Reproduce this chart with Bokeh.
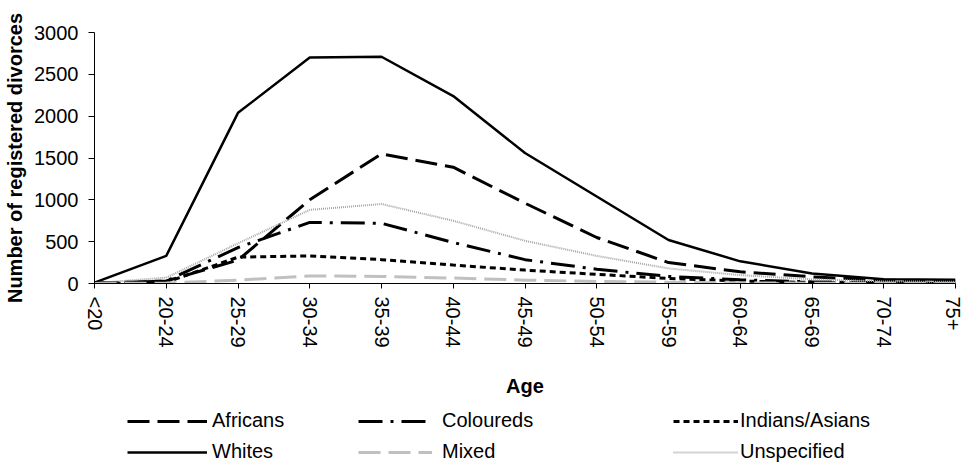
from bokeh.plotting import figure
from bokeh.layouts import column
from bokeh.models import Range1d, FixedTicker, Legend, LegendItem
from bokeh.embed import file_html
from bokeh.resources import INLINE

# ---- data ----
ages = ["<20", "20-24", "25-29", "30-34", "35-39", "40-44", "45-49",
        "50-54", "55-59", "60-64", "65-69", "70-74", "75+"]
africans = [5, 30, 280, 1000, 1550, 1390, 960, 550, 250, 140, 80, 40, 30]
coloureds = [3, 30, 430, 730, 720, 490, 285, 170, 85, 45, 20, 10, 5]
indians_asians = [0, 15, 315, 330, 285, 220, 160, 110, 60, 30, 12, 5, 3]
whites = [10, 330, 2040, 2700, 2710, 2240, 1560, 1040, 520, 265, 120, 50, 45]
mixed = [0, 5, 40, 90, 85, 65, 40, 25, 15, 8, 4, 2, 2]
unspecified = [5, 70, 480, 880, 950, 750, 510, 330, 180, 100, 50, 25, 20]
y_ticks = [0, 500, 1000, 1500, 2000, 2500, 3000]
series_names = ["Africans", "Coloureds", "Indians/Asians", "Whites", "Mixed", "Unspecified"]

FONT = "Liberation Sans"
x = list(range(len(ages)))

STYLES = {
    "Africans": dict(line_color="black", line_width=3, line_dash="22 8"),
    "Coloureds": dict(line_color="black", line_width=3, line_dash="24 8 3 8"),
    "Indians/Asians": dict(line_color="black", line_width=3, line_dash="6 4"),
    "Whites": dict(line_color="black", line_width=2.5, line_dash="solid"),
    "Mixed": dict(line_color="#c0c0c0", line_width=3, line_dash="22 8"),
    "Unspecified": dict(line_color="#a6a6a6", line_width=2, line_dash="1 1"),
}
values = dict(zip(series_names, [africans, coloureds, indians_asians, whites, mixed, unspecified]))

W = 963
H_MAIN = 400
H_LEG = 63

p = figure(width=W, height=H_MAIN, output_backend="svg", toolbar_location=None,
           x_range=Range1d(0, len(ages) - 1), y_range=Range1d(0, 3000),
           min_border_left=94, min_border_right=8, min_border_top=32,
           min_border_bottom=117)
p.outline_line_color = None
p.grid.visible = False
p.background_fill_color = "white"
p.border_fill_color = "white"

for name in series_names:
    p.line(x, values[name], **STYLES[name])

# y axis
ya = p.yaxis[0]
ya.ticker = FixedTicker(ticks=y_ticks)
ya.minor_tick_line_color = None
ya.major_tick_in = 0
ya.major_tick_out = 6
ya.major_label_standoff = 10
ya.major_label_text_font = FONT
ya.major_label_text_font_size = "20px"
ya.major_label_text_color = "black"
ya.axis_line_color = "black"
ya.major_tick_line_color = "black"
ya.axis_label = "Number of registered divorces"
ya.axis_label_text_font = FONT
ya.axis_label_text_font_size = "20px"
ya.axis_label_text_font_style = "bold"
ya.axis_label_text_color = "black"
ya.axis_label_standoff = 5

# x axis
xa = p.xaxis[0]
xa.ticker = FixedTicker(ticks=x)
xa.major_label_overrides = {i: a for i, a in enumerate(ages)}
xa.major_label_orientation = "vertical"
xa.minor_tick_line_color = None
xa.major_tick_in = 0
xa.major_tick_out = 5
xa.major_label_standoff = 8
xa.major_label_text_font = FONT
xa.major_label_text_font_size = "20px"
xa.major_label_text_color = "black"
xa.axis_line_color = "black"
xa.major_tick_line_color = "black"
xa.axis_label = "Age"
xa.axis_label_text_font = FONT
xa.axis_label_text_font_size = "20px"
xa.axis_label_text_font_style = "bold"
xa.axis_label_text_color = "black"
xa.axis_label_standoff = 24

# ---- legend strip (a second figure; its renderers hold no visible data, only styles) ----
q = figure(width=W, height=H_LEG, output_backend="svg", toolbar_location=None,
           x_range=Range1d(0, 1), y_range=Range1d(0, 1),
           x_axis_type=None, y_axis_type=None,
           min_border_left=0, min_border_right=0, min_border_top=0, min_border_bottom=0)
q.outline_line_color = None
q.grid.visible = False
q.background_fill_color = "white"
q.border_fill_color = "white"
nan = float("nan")
leg_r = {name: q.line([nan], [nan], **STYLES[name]) for name in series_names}

cols = [
    (["Africans", "Whites"], 33, 80, 5),
    (["Coloureds", "Mixed"], 264, 74, 10),
    (["Indians/Asians", "Unspecified"], 579, 65, 2),
]
for names, lx, gw, st in cols:
    leg = Legend(items=[LegendItem(label=n, renderers=[leg_r[n]]) for n in names],
                 location=(lx, 0), orientation="vertical",
                 padding=0, margin=0, spacing=8,
                 glyph_height=22, label_height=22, glyph_width=gw, label_standoff=st,
                 label_text_font=FONT, label_text_font_size="20px",
                 label_text_color="black",
                 border_line_alpha=0, background_fill_alpha=0)
    q.add_layout(leg)

layout = column(p, q, spacing=0)
open("out.html", "w").write(file_html(layout, INLINE))
